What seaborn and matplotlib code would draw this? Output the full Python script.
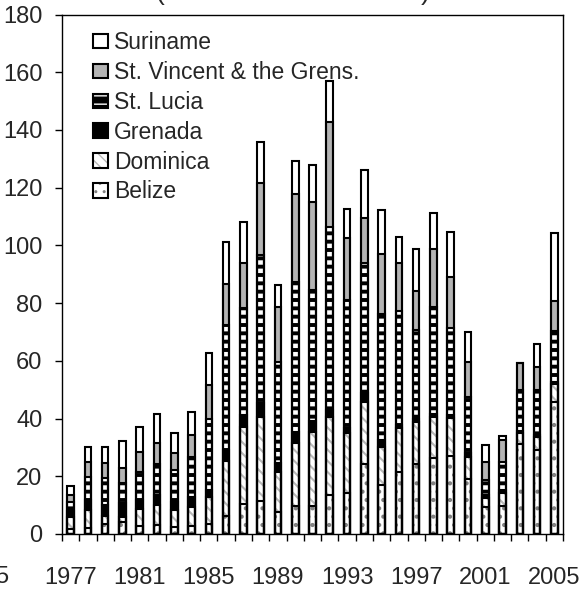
import numpy as np
import pandas as pd
import matplotlib as mpl
mpl.use('Agg')
import matplotlib.pyplot as plt
from matplotlib.patches import Patch
from matplotlib.legend_handler import HandlerTuple
from matplotlib.ticker import FixedLocator
import seaborn as sns

## =============================== ##
## data

years = list(range(1977, 2006))

belize   = [1.6, 2.0, 3.5, 4.3, 2.8, 3.1, 2.5, 2.8, 3.5, 6.2, 10.4, 11.5, 7.7, 9.8, 9.8,
            13.5, 14.3, 24.3, 17.0, 21.6, 24.3, 26.2, 27.0, 19.1, 9.5, 9.7, 31.2, 29.1, 45.8]
dominica = [4.4, 6.3, 2.7, 1.7, 5.7, 6.9, 5.8, 6.7, 9.4, 19.2, 26.6, 28.9, 13.9, 21.6, 25.5,
            26.9, 20.6, 21.5, 13.3, 15.0, 14.4, 14.5, 13.1, 7.5, 2.9, 4.4, 3.9, 4.6, 6.2]
grenada  = [2.0, 3.5, 3.8, 4.6, 3.3, 3.5, 2.9, 3.4, 2.3, 3.7, 4.3, 4.9, 2.9, 4.1, 3.7,
            2.6, 1.7, 3.0, 2.3, 1.2, 1.0, 1.0, 1.0, 1.4, 1.2, 1.0, 0.5, 0.5, 0.5]
stlucia  = [3.2, 8.1, 9.3, 7.2, 9.6, 10.7, 11.0, 13.9, 24.5, 43.3, 36.9, 51.4, 35.2, 51.8, 45.5,
            63.5, 44.5, 45.2, 43.6, 39.6, 31.1, 37.0, 30.2, 19.4, 5.2, 10.0, 14.3, 15.7, 17.9]
stvincent = [2.3, 4.9, 5.2, 5.2, 7.1, 7.2, 5.8, 7.6, 11.9, 14.3, 15.7, 24.9, 18.8, 30.5, 30.5,
             36.4, 21.6, 15.4, 20.8, 16.6, 13.3, 19.9, 17.6, 12.3, 6.1, 7.5, 9.5, 8.1, 10.4]
suriname = [3.2, 5.5, 5.8, 9.2, 8.7, 10.1, 6.9, 7.8, 11.0, 14.5, 14.1, 14.2, 7.8, 11.4, 12.9,
            14.2, 9.8, 16.7, 15.3, 8.9, 14.8, 12.5, 15.8, 10.4, 5.8, 1.4, 0.0, 7.8, 23.4]

series_names = ['Belize', 'Dominica', 'Grenada', 'St. Lucia', 'St. Vincent & the Grens.', 'Suriname']
series_vals = [belize, dominica, grenada, stlucia, stvincent, suriname]

yticks = list(range(0, 181, 20))
xtick_years = list(range(1977, 2006, 4))

## =============================== ##
## styles: (facecolor, hatch colour, hatch)

styles = {
	'Belize': ('white', '#808080', '..'),
	'Dominica': ('white', '#b8b8b8', '\\\\\\'),
	'Grenada': ('black', 'black', None),
	'St. Lucia': ('black', 'white', '--'),
	'St. Vincent & the Grens.': ('#b4b4b4', '#b4b4b4', None),
	'Suriname': ('white', 'white', None),
}
hatch_lw = {'Belize': 1.8, 'Dominica': 1.5, 'St. Lucia': 3.2}

sns.set_style('ticks')
plt.rcParams['font.family'] = ['Liberation Sans', 'DejaVu Sans']

df = pd.DataFrame(dict(zip(series_names, series_vals)), index=years)
cum = df.cumsum(axis=1)
cum['year'] = [str(y) for y in years]

fig = plt.figure(figsize=(5.86, 5.90), dpi=100)
ax = fig.add_axes([62/586, 1 - 534/590, (563 - 62)/586, (534 - 14.5)/590])

width = 0.38
# fills: from the top layer down, each one hides the lower part of the previous
for name in series_names[::-1]:
	fc, hc, hatch = styles[name]
	with plt.rc_context({'hatch.linewidth': hatch_lw.get(name, 1.0)}):
		sns.barplot(ax=ax, data=cum, x='year', y=name, color=fc, saturation=1, errorbar=None,
					width=width, edgecolor=hc, linewidth=0, hatch=hatch)
		for p in ax.containers[-1]:
			if hasattr(p, 'set_hatch_linewidth'):
				p.set_hatch_linewidth(hatch_lw.get(name, 1.0))
# outlines
for name in series_names[::-1]:
	sns.barplot(ax=ax, data=cum, x='year', y=name, fill=False, color='black', saturation=1,
				errorbar=None, width=width, linewidth=1.5)

ax.set_xlim(-0.5, len(years) - 0.5)
ax.set_ylim(0, 180)
ax.set_yticks(yticks)
ax.set_xticks([years.index(y) for y in xtick_years])
ax.set_xticklabels([str(y) for y in xtick_years])
ax.xaxis.set_minor_locator(FixedLocator(np.arange(-0.5, len(years), 1.0)))
ax.tick_params(axis='x', which='major', length=0, pad=24, labelsize=17)
ax.tick_params(axis='x', which='minor', length=5, width=1, direction='out', color='black')
ax.tick_params(axis='y', length=5, width=1, direction='out', pad=9, labelsize=17, color='black')
ax.set_xlabel('')
ax.set_ylabel('')
for s in ax.spines.values():
	s.set_visible(True)
	s.set_color('black')
	s.set_linewidth(1.0)

# legend
handles = []
for name in series_names[::-1]:
	fc, hc, hatch = styles[name]
	with plt.rc_context({'hatch.linewidth': hatch_lw.get(name, 1.0)}):
		fill = Patch(facecolor=fc, edgecolor=hc, hatch=hatch, linewidth=0)
	outline = Patch(facecolor='none', edgecolor='black', linewidth=1.5)
	handles.append((fill, outline))
ax.legend(handles, series_names[::-1], handler_map={tuple: HandlerTuple(ndivide=1, pad=0)},
		  loc='upper left', bbox_to_anchor=(0.062, 0.968), frameon=False, fontsize=16.5,
		  handlelength=0.65, handleheight=0.6, handletextpad=0.25, labelspacing=0.3,
		  borderpad=0, borderaxespad=0)

# cut-off bits of neighbouring text
fig.text(8/586, 1 - 577/590, '5', ha='right', va='center', fontsize=17)
fig.text(160/586, 1.0, '(', ha='center', va='baseline', fontsize=19)
fig.text(425/586, 1.0, ')', ha='center', va='baseline', fontsize=19)

fig.savefig('out.png', dpi=100)
